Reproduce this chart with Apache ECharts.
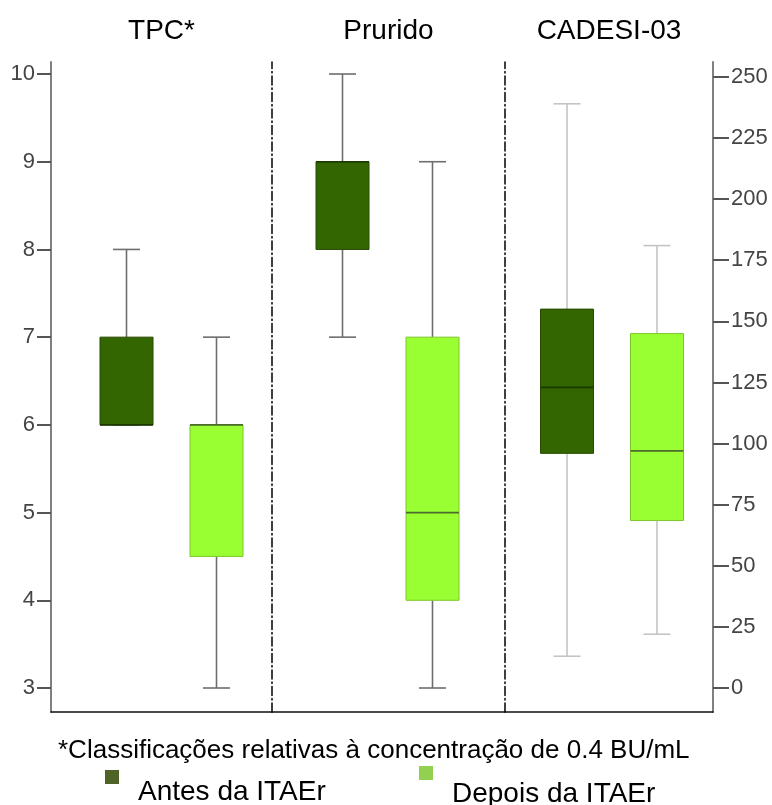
<!DOCTYPE html>
<html>
<head>
<meta charset="utf-8">
<script src="https://cdn.jsdelivr.net/npm/echarts@6/dist/echarts.min.js"></script>
<style>
html,body{margin:0;padding:0;background:#fff;}
#chart{width:772px;height:805px;}
</style>
</head>
<body>
<div id="chart"></div>
<script>
// ---- data ----
const panels = ['TPC*', 'Prurido', 'CADESI-03'];
const seriesNames = ['Antes da ITAEr', 'Depois da ITAEr'];
// [min, Q1, median, Q3, max]
const antes = [
  [6, 6, 6, 7, 8],
  [7, 8, 9, 9, 10],
  [13, 96, 123, 155, 239]
];
const depois = [
  [3, 4.5, 6, 6, 7],
  [3, 4, 5, 7, 9],
  [22, 68.5, 97, 145, 181]
];
const leftTicks = [3, 4, 5, 6, 7, 8, 9, 10];
const rightTicks = [0, 25, 50, 75, 100, 125, 150, 175, 200, 225, 250];
const footnote = '*Classificações relativas à concentração de 0.4 BU/mL';

// ---- layout / style ----
const leftRange = [2.7264, 10.137];
const rightRange = [-9.82, 256.1];
const gridTop = 62, gridBottom = 93;
const panelRects = [[51, 221], [272, 233], [505, 208]];
const panelShift = [10, -1, 3];
const boxOffset = 45;
const boxW = 53;
const capHalf = 13.5;
const fills = ['#336600', '#99ff33'];
const boxStroke = ['#254a00', '#7fc62a'];
const medianColor = ['#1c3800', '#4d6b2a'];
const whiskerColors = ['#6e6e6e', '#6e6e6e', '#c4c4c4'];
const legendColors = ['#4f6228', '#92d050'];
const dashDot = [9, 3, 1.5, 3];

function makeRender(panelIdx, side) {
  return function (params, api) {
    const cat = api.value(0);
    const v = [1, 2, 3, 4, 5].map(k => api.value(k));
    const cx = api.coord([cat, v[2]])[0] + panelShift[panelIdx] + (side === 0 ? -boxOffset : boxOffset);
    const y = val => api.coord([cat, val])[1];
    const wc = whiskerColors[panelIdx];
    const lineStyle = {stroke: wc, lineWidth: 1.6};
    const children = [
      {type: 'line', shape: {x1: cx, y1: y(v[4]), x2: cx, y2: y(v[3])}, style: lineStyle},
      {type: 'line', shape: {x1: cx, y1: y(v[1]), x2: cx, y2: y(v[0])}, style: lineStyle},
      {type: 'line', shape: {x1: cx - capHalf, y1: y(v[4]), x2: cx + capHalf, y2: y(v[4])}, style: lineStyle},
      {type: 'line', shape: {x1: cx - capHalf, y1: y(v[0]), x2: cx + capHalf, y2: y(v[0])}, style: lineStyle},
      {type: 'rect', shape: {x: cx - boxW / 2, y: y(v[3]), width: boxW, height: y(v[1]) - y(v[3])},
        style: {fill: fills[side], stroke: boxStroke[side], lineWidth: 1}},
      {type: 'line', shape: {x1: cx - boxW / 2, y1: y(v[2]), x2: cx + boxW / 2, y2: y(v[2])},
        style: {stroke: medianColor[side], lineWidth: 1.6}}
    ];
    return {type: 'group', children: children};
  };
}

const grids = panelRects.map(r => ({left: r[0], width: r[1], top: gridTop, bottom: gridBottom, containLabel: false}));

const xAxes = [];
panels.forEach((p, i) => {
  xAxes.push({
    type: 'category', gridIndex: i, position: 'top', data: [p],
    axisLine: {show: false, onZero: false}, axisTick: {show: false},
    axisLabel: {fontSize: 28, color: '#000', margin: 17, fontFamily: 'Liberation Sans'}
  });
  xAxes.push({
    type: 'category', gridIndex: i, position: 'bottom', data: [p],
    axisLine: {show: true, onZero: false, lineStyle: {color: '#111', width: 1.5}},
    axisTick: {show: false}, axisLabel: {show: false}
  });
});

const tickLabelStyle = {fontSize: 22, color: '#444', fontFamily: 'Liberation Sans'};

const yAxes = [
  {
    type: 'value', gridIndex: 0, position: 'left', min: leftRange[0], max: leftRange[1],
    axisLine: {show: true, onZero: false, lineStyle: {color: '#808080', width: 2}},
    axisTick: {show: true, length: 14, customValues: leftTicks, lineStyle: {color: '#555', width: 2}},
    axisLabel: Object.assign({customValues: leftTicks, margin: 16}, tickLabelStyle),
    splitLine: {show: false}
  },
  {
    type: 'value', gridIndex: 1, position: 'left', min: leftRange[0], max: leftRange[1],
    axisLine: {show: true, onZero: false, lineStyle: {color: '#000', width: 1.5, type: dashDot}},
    axisTick: {show: false}, axisLabel: {show: false}, splitLine: {show: false}
  },
  {
    type: 'value', gridIndex: 2, position: 'left', min: rightRange[0], max: rightRange[1],
    axisLine: {show: true, onZero: false, lineStyle: {color: '#000', width: 1.5, type: dashDot}},
    axisTick: {show: false}, axisLabel: {show: false}, splitLine: {show: false}
  },
  {
    type: 'value', gridIndex: 2, position: 'right', min: rightRange[0], max: rightRange[1],
    axisLine: {show: true, onZero: false, lineStyle: {color: '#808080', width: 2}},
    axisTick: {show: true, length: 16, customValues: rightTicks, lineStyle: {color: '#555', width: 2}},
    axisLabel: Object.assign({customValues: rightTicks, margin: 18}, tickLabelStyle),
    splitLine: {show: false}
  }
];

const yIndexForPanel = [0, 1, 3];
const series = [];
panels.forEach((p, i) => {
  [antes, depois].forEach((arr, side) => {
    series.push({
      type: 'custom',
      name: seriesNames[side],
      xAxisIndex: i * 2 + 1,
      yAxisIndex: yIndexForPanel[i],
      itemStyle: {color: legendColors[side]},
      encode: {x: 0, y: [1, 2, 3, 4, 5]},
      data: [[0].concat(arr[i])],
      renderItem: makeRender(i, side),
      silent: true
    });
  });
});

function legendCfg(idx, left, top, drop) {
  return {
    data: [{name: seriesNames[idx], itemStyle: {color: legendColors[idx]}}],
    left: left, top: top, icon: 'rect', itemWidth: 14, itemHeight: 14, selectedMode: false,
    formatter: '{t|{name}}',
    textStyle: {
      color: '#000', fontFamily: 'Liberation Sans', fontSize: 28,
      rich: {t: {fontSize: 28, color: '#000', fontFamily: 'Liberation Sans', padding: [drop * 2, 0, 0, 14]}}
    }
  };
}

const option = {
  animation: false,
  backgroundColor: '#fff',
  title: {
    text: footnote, left: 53, top: 733,
    textStyle: {fontSize: 26, fontWeight: 'normal', color: '#000', fontFamily: 'Liberation Sans'}
  },
  legend: [legendCfg(0, 100, 765, 15), legendCfg(1, 414, 761, 21)],
  grid: grids,
  xAxis: xAxes,
  yAxis: yAxes,
  series: series
};

const chart = echarts.init(document.getElementById('chart'), null, {renderer: 'canvas'});
chart.setOption(option);
</script>
</body>
</html>
